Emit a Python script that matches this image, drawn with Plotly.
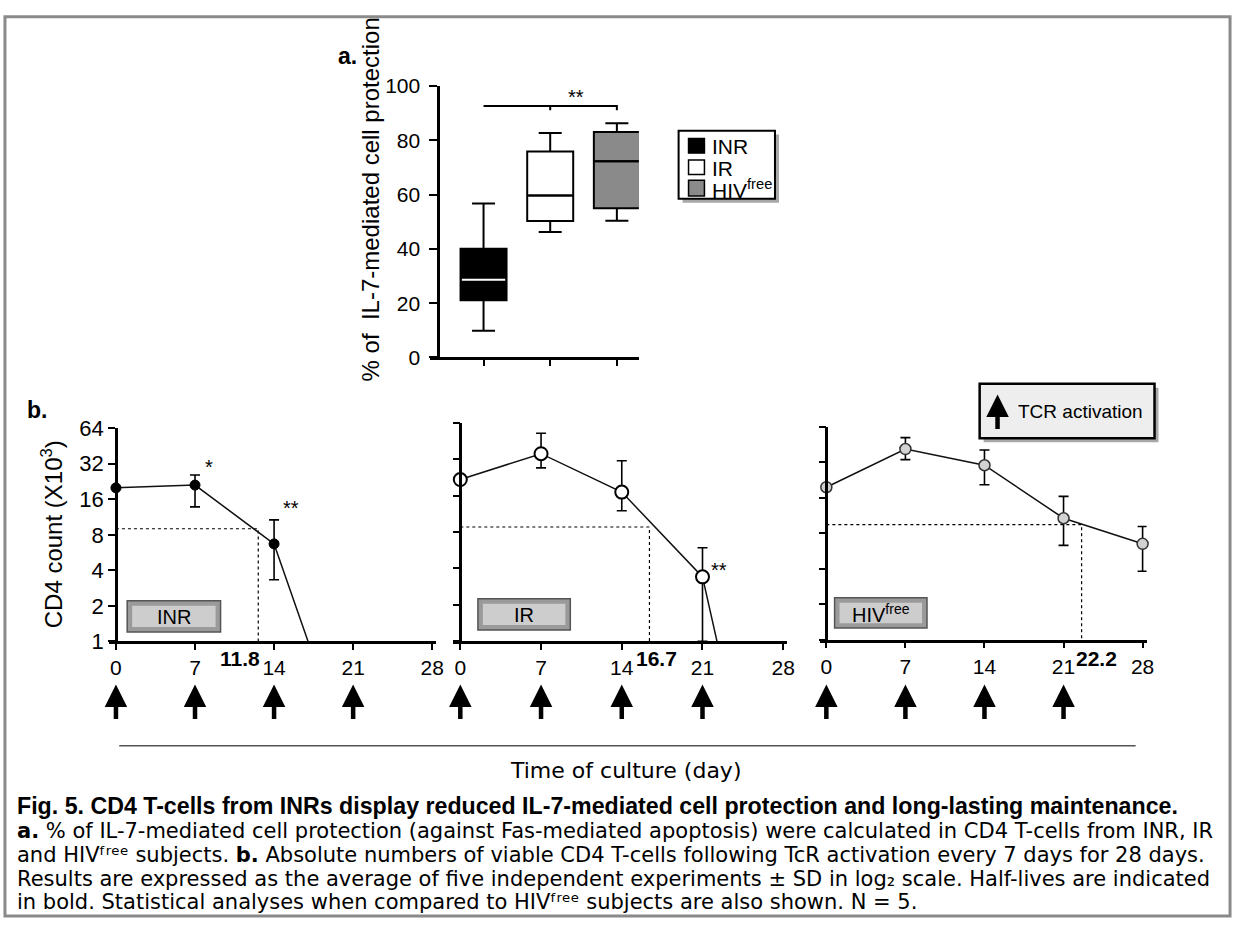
import math
import plotly.graph_objects as go

W, H = 1243, 933
FONT = "Liberation Sans, Arial, sans-serif"
WIDE = "DejaVu Sans, Liberation Sans, sans-serif"


def fx(p):
    return p / W


def fy(p):
    return 1 - p / H


# ---------------- Panel a data ----------------
groups = ["INR", "IR", "HIV<sup>free</sup>"]
group_x = [1, 2, 3]
whisker_low = [9.8, 46.2, 50.4]
box_q1 = [21.1, 50.3, 55.0]
box_median = [28.6, 59.7, 72.3]
box_q3 = [40.0, 75.9, 83.0]
whisker_high = [56.7, 82.7, 86.3]
box_fill = ["#000000", "#ffffff", "#8a8a8a"]
median_color = ["#ffffff", "#000000", "#000000"]
sig_bracket = [1, 3]
sig_bracket_y = 92.6
sig_label = "**"
a_yticks = [0, 20, 40, 60, 80, 100]

# ---------------- Panel b data ----------------
b_yticks = [1, 2, 4, 8, 16, 32, 64]
b_xticks = [0, 7, 14, 21, 28]
activation_days = [0, 7, 14, 21]

inr_days = [0, 7, 14, 21]
inr_mean = [20.0, 21.1, 6.7, 0.08]
inr_hi = [None, 25.7, 10.7, None]
inr_lo = [None, 13.8, 3.33, None]

ir_days = [0, 7, 14, 21, 28]
ir_mean = [21.7, 35.5, 17.1, 3.41, 0.0037]
ir_hi = [None, 52.3, 31.0, 5.93, None]
ir_lo = [None, 27.1, 12.0, 1.0, None]

hiv_days = [0, 7, 14, 21, 28]
hiv_mean = [19.6, 41.3, 30.1, 10.7, 6.5]
hiv_hi = [None, 51.6, 40.5, 16.4, 9.1]
hiv_lo = [None, 33.6, 20.6, 6.3, 3.8]

half_life_label = ["11.8", "16.7", "22.2"]
half_life_day = [12.6, 16.4, 22.6]
half_level = [9.0, 8.8, 9.45]

panel_names = ["INR", "IR", "HIV<sup>free</sup>"]
stars = [[(8.2, 29.8, "*"), (15.5, 13.4, "**")], [(22.4, 3.9, "**")], []]

fig = go.Figure()

# ---------------- Panel a: boxes ----------------
BOX_W = 0.69
for i in range(3):
    fig.add_trace(go.Box(
        x=[group_x[i]], q1=[box_q1[i]], median=[box_median[i]], q3=[box_q3[i]],
        lowerfence=[whisker_low[i]], upperfence=[whisker_high[i]],
        width=BOX_W, whiskerwidth=0.5, fillcolor=box_fill[i],
        line=dict(color="#000000", width=2), boxpoints=False,
        xaxis="x", yaxis="y", hoverinfo="skip"))
    fig.add_trace(go.Scatter(
        x=[group_x[i] - BOX_W / 2 + 0.02, group_x[i] + BOX_W / 2 - 0.02],
        y=[box_median[i], box_median[i]], mode="lines",
        line=dict(color=median_color[i], width=2), xaxis="x", yaxis="y",
        hoverinfo="skip"))

# significance bracket
fig.add_trace(go.Scatter(
    x=[sig_bracket[0], sig_bracket[1], sig_bracket[1]],
    y=[sig_bracket_y, sig_bracket_y, sig_bracket_y - 1.5], mode="lines",
    line=dict(color="#000", width=2), xaxis="x", yaxis="y", hoverinfo="skip"))
fig.add_trace(go.Scatter(
    x=[(sig_bracket[0] + sig_bracket[1]) / 2] * 2,
    y=[sig_bracket_y, sig_bracket_y - 1.5], mode="lines",
    line=dict(color="#000", width=2), xaxis="x", yaxis="y", hoverinfo="skip"))

# ---------------- Panel b ----------------
series = [
    (inr_days, inr_mean, inr_hi, inr_lo,
     dict(symbol="circle", size=10, color="#000000", line=dict(color="#000", width=1))),
    (ir_days, ir_mean, ir_hi, ir_lo,
     dict(symbol="circle", size=13, color="#ffffff", line=dict(color="#000", width=2))),
    (hiv_days, hiv_mean, hiv_hi, hiv_lo,
     dict(symbol="circle", size=11, color="#d2d2d2", line=dict(color="#333", width=1.5))),
]

for k, (d, m, hi, lo, mk) in enumerate(series):
    s = k + 2
    xa, ya = f"x{s}", f"y{s}"
    fig.add_trace(go.Scatter(
        x=[0, half_life_day[k], half_life_day[k]],
        y=[half_level[k], half_level[k], 1], mode="lines",
        line=dict(color="#000", width=1.2, dash="dot"), xaxis=xa, yaxis=ya,
        hoverinfo="skip"))
    fig.add_trace(go.Scatter(
        x=d, y=m, mode="lines", line=dict(color="#111", width=1.5),
        xaxis=xa, yaxis=ya, hoverinfo="skip"))
    vx, vy, up, dn = [], [], [], []
    for j in range(len(d)):
        if m[j] >= 1:
            vx.append(d[j])
            vy.append(m[j])
            up.append(None if hi[j] is None else hi[j] - m[j])
            dn.append(None if lo[j] is None else m[j] - lo[j])
    fig.add_trace(go.Scatter(
        x=vx, y=vy, mode="markers", marker=mk, cliponaxis=False,
        error_y=dict(type="data", symmetric=False, array=up, arrayminus=dn,
                     color="#000", thickness=1.6, width=5),
        xaxis=xa, yaxis=ya, hoverinfo="skip"))

# ---------------- Layout / axes ----------------
layout = dict(
    width=W, height=H, margin=dict(l=0, r=0, t=0, b=0),
    paper_bgcolor="#ffffff", plot_bgcolor="rgba(0,0,0,0)",
    showlegend=False, font=dict(family=FONT, color="#000"),
)

layout["xaxis"] = dict(
    domain=[fx(433), fx(643)], range=[0.2, 3.33], anchor="y",
    showline=True, linewidth=2.5, linecolor="#000", showgrid=False, zeroline=False,
    tickvals=group_x, ticktext=["", "", ""], ticks="outside", ticklen=6,
    tickwidth=2, tickcolor="#000")
layout["yaxis"] = dict(
    domain=[fy(355), fy(76)], range=[0, 100], anchor="free", position=fx(441),
    showline=True, linewidth=2.5, linecolor="#000", showgrid=False, zeroline=False,
    tickvals=a_yticks, ticks="outside", ticklen=8, tickwidth=2, tickcolor="#000",
    tickfont=dict(size=21, family=FONT), ticklabelstandoff=5)

panels = [
    dict(x0=116.7, x1=435.0, ytop=427.7, ybot=646.7),
    dict(x0=463.3, x1=788.3, ytop=422.0, ybot=646.7),
    dict(x0=831.7, x1=1150.0, ytop=426.0, ybot=645.0),
]
for k, p in enumerate(panels):
    s = k + 2
    kpx = (p["x1"] - p["x0"]) / 28.0
    layout[f"xaxis{s}"] = dict(
        domain=[fx(p["x0"] - 0.6 * kpx), fx(p["x1"] + 0.35 * kpx)],
        range=[-0.6, 28.35], anchor=f"y{s}",
        showline=True, linewidth=2.5, linecolor="#000", showgrid=False,
        zeroline=False, tickvals=b_xticks, ticks="outside", ticklen=6,
        tickwidth=2, tickcolor="#000", tickfont=dict(size=21, family=FONT))
    layout[f"yaxis{s}"] = dict(
        domain=[fy(p["ybot"]), fy(p["ytop"])], type="log",
        range=[0, math.log10(64)], anchor="free", position=fx(p["x0"]),
        showline=True, linewidth=2.5, linecolor="#000", showgrid=False,
        zeroline=False, tickvals=b_yticks, ticks="outside", ticklen=7,
        tickwidth=2, tickcolor="#000", showticklabels=(k == 0),
        tickfont=dict(size=22, family=FONT))

fig.update_layout(**layout)

shapes = []
annotations = []


def rect(x0, y0, x1, y1, **kw):
    return dict(type="rect", xref="paper", yref="paper",
                x0=fx(x0), x1=fx(x1), y0=fy(y1), y1=fy(y0), **kw)


def text(x, y, t, size, xanchor="center", yanchor="middle", angle=0, family=FONT, **kw):
    return dict(x=fx(x), y=fy(y), xref="paper", yref="paper", text=t,
                showarrow=False, xanchor=xanchor, yanchor=yanchor,
                textangle=angle, font=dict(size=size, family=family, color="#000"),
                **kw)


# outer frame
shapes.append(rect(5, 5, 1238, 929, line=dict(color="#8a8a8a", width=3)))

# panel labels
annotations.append(text(350, 45, "<b>a.</b>", 23))
annotations.append(text(37, 409, "<b>b.</b>", 23))

# panel a y-title
annotations.append(text(373, 193, "% of  IL-7-mediated cell protection", 24, angle=-90))
annotations.append(dict(x=2.39, y=sig_bracket_y + 3.2, xref="x", yref="y",
                        text=sig_label, showarrow=False,
                        font=dict(size=20, family=FONT, color="#000")))

# panel a legend
shapes.append(rect(687, 126, 784, 196, fillcolor="#a8a8a8", line=dict(width=0)))
shapes.append(rect(683, 122, 780, 192, fillcolor="#ffffff", line=dict(color="#000", width=2)))
leg_rows = [(130, 145), (152, 167), (173, 189)]
for i, (t0, t1) in enumerate(leg_rows):
    shapes.append(rect(693, t0, 709, t1, fillcolor=box_fill[i],
                       line=dict(color="#000", width=1.5)))
    annotations.append(text(715, (t0 + t1) / 2 + 1, groups[i], 21, xanchor="left"))

# panel b y-title
annotations.append(text(52, 537, "CD4 count (X10<sup>3</sup>)", 24, angle=-90))

# group label boxes in panel b
label_boxes = [(128, 605, 222, 637), (481, 603, 574, 635), (840, 602, 933, 633)]
for k, (x0, y0, x1, y1) in enumerate(label_boxes):
    shapes.append(rect(x0, y0, x1, y1, fillcolor="#9a9a9a", line=dict(color="#555", width=1.5)))
    shapes.append(rect(x0 + 5, y0 + 5, x1 - 5, y1 - 5, fillcolor="#cdcdcd", line=dict(width=0)))
    annotations.append(text((x0 + x1) / 2, (y0 + y1) / 2 + 1, panel_names[k], 20))

for k, lst in enumerate(stars):
    s = k + 2
    for (dx, val, lab) in lst:
        annotations.append(dict(x=dx, y=math.log10(val), xref=f"x{s}", yref=f"y{s}",
                                text=lab, showarrow=False,
                                font=dict(size=20, family=FONT, color="#000")))

# half-life labels (bold)
hl_label_px = [242, 661, 1104]
for k in range(3):
    annotations.append(text(hl_label_px[k], 664, "<b>" + half_life_label[k] + "</b>", 21))

# TCR activation legend box
shapes.append(rect(990, 386, 1166, 442, fillcolor="#a8a8a8", line=dict(width=0)))
shapes.append(rect(986, 382, 1162, 438, fillcolor="#eeeeee", line=dict(color="#000", width=2.5)))
annotations.append(dict(x=fx(1004), y=fy(393), xref="paper", yref="paper", text="",
                        showarrow=True, ax=0, ay=36, arrowhead=2, arrowsize=1,
                        arrowwidth=4.5, arrowcolor="#000", standoff=0))
annotations.append(text(1023, 411, "TCR activation", 19, xanchor="left"))

# activation arrows under each panel
for k in range(3):
    s = k + 2
    for dday in activation_days:
        annotations.append(dict(x=dday, y=fy(691), xref=f"x{s}", yref="paper", text="",
                                showarrow=True, ax=0, ay=36, arrowhead=2, arrowsize=1,
                                arrowwidth=4.5, arrowcolor="#000", standoff=0))

shapes.append(dict(type="line", xref="paper", yref="paper", x0=fx(120), x1=fx(1143),
                   y0=fy(754), y1=fy(754), line=dict(color="#555", width=1.5)))
annotations.append(text(630, 779, "Time of culture (day)", 22, family=WIDE))

# caption (superscript/subscript written with Unicode modifier characters)
HIVF = "HIV\u1da0\u02b3\u1d49\u1d49"
caption = [
    "<b>Fig. 5. CD4 T-cells from INRs display reduced IL-7-mediated cell protection and long-lasting maintenance.</b>",
    "<b>a.</b> % of IL-7-mediated cell protection (against Fas-mediated apoptosis) were calculated in CD4 T-cells from INR, IR",
    "and " + HIVF + " subjects. <b>b.</b> Absolute numbers of viable CD4 T-cells following TcR activation every 7 days for 28 days.",
    "Results are expressed as the average of five independent experiments ± SD in log\u2082 scale. Half-lives are indicated",
    "in bold. Statistical analyses when compared to " + HIVF + " subjects are also shown. N = 5.",
]
cap_font = [FONT, WIDE, WIDE, WIDE, WIDE]
cap_size = [23.2, 21, 21, 21, 21]
cap_y = [816, 841.5, 866, 890.5, 915]
for t, yy, sz, fam in zip(caption, cap_y, cap_size, cap_font):
    annotations.append(text(15, yy, t, sz, xanchor="left", family=fam))

fig.update_layout(shapes=shapes, annotations=annotations)

fig.write_html("out.html", config={"displayModeBar": False},
               post_script="document.body.style.margin='0';")
